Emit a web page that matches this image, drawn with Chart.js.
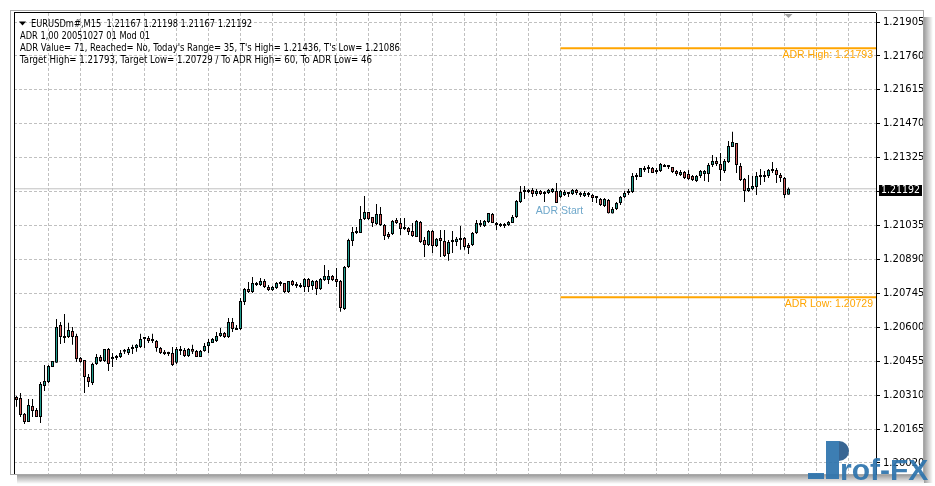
<!DOCTYPE html>
<html>
<head>
<meta charset="utf-8">
<script src="https://cdn.jsdelivr.net/npm/chart.js@4.4.1/dist/chart.umd.min.js"></script>
<style>
  html, body { margin: 0; padding: 0; background: #fff; }
  canvas { display: block; }
</style>
</head>
<body>
<canvas id="chart" width="935" height="486"></canvas>
<script>
// EURUSDm# M15 bars, oldest first.
const opens = [
  1.20302, 1.20298, 1.20230, 1.20195, 1.20264, 1.20247, 1.20217, 1.20349, 1.20366, 1.20430,
  1.20448, 1.20610, 1.20563, 1.20559, 1.20584, 1.20563, 1.20469, 1.20460, 1.20388, 1.20362,
  1.20443, 1.20473, 1.20456, 1.20507, 1.20465, 1.20469, 1.20473, 1.20495, 1.20490, 1.20507,
  1.20512, 1.20516, 1.20550, 1.20554, 1.20542, 1.20542, 1.20512, 1.20495, 1.20490, 1.20490,
  1.20448, 1.20499, 1.20503, 1.20477, 1.20507, 1.20499, 1.20473, 1.20499, 1.20520, 1.20533,
  1.20542, 1.20563, 1.20576, 1.20559, 1.20623, 1.20589, 1.20593, 1.20708, 1.20764, 1.20751,
  1.20789, 1.20781, 1.20798, 1.20772, 1.20760, 1.20768, 1.20789, 1.20789, 1.20751, 1.20798,
  1.20781, 1.20777, 1.20772, 1.20807, 1.20777, 1.20798, 1.20764, 1.20802, 1.20802, 1.20819,
  1.20807, 1.20798, 1.20678, 1.20858, 1.20969, 1.21003, 1.21003, 1.21063, 1.21093, 1.21072,
  1.21042, 1.21084, 1.21037, 1.20999, 1.20999, 1.21059, 1.21046, 1.21029, 1.21025, 1.21012,
  1.20986, 1.21050, 1.20973, 1.20952, 1.21012, 1.20948, 1.20982, 1.20969, 1.20913, 1.20965,
  1.20965, 1.20978, 1.20982, 1.20952, 1.20952, 1.21003, 1.21046, 1.21033, 1.21050, 1.21084,
  1.21046, 1.21042, 1.21033, 1.21037, 1.21046, 1.21072, 1.21136, 1.21183, 1.21178, 1.21187,
  1.21170, 1.21183, 1.21174, 1.21174, 1.21178, 1.21183, 1.21157, 1.21166, 1.21174, 1.21170,
  1.21187, 1.21174, 1.21161, 1.21174, 1.21166, 1.21157, 1.21148, 1.21119, 1.21144, 1.21086,
  1.21106, 1.21131, 1.21157, 1.21174, 1.21178, 1.21251, 1.21242, 1.21281, 1.21277, 1.21281,
  1.21272, 1.21268, 1.21294, 1.21290, 1.21285, 1.21268, 1.21251, 1.21264, 1.21255, 1.21247,
  1.21225, 1.21247, 1.21255, 1.21255, 1.21294, 1.21311, 1.21298, 1.21268, 1.21307, 1.21371,
  1.21388, 1.21290, 1.21234, 1.21183, 1.21191, 1.21200, 1.21247, 1.21242, 1.21247, 1.21272,
  1.21272, 1.21251, 1.21238, 1.21167
];
const highs = [
  1.20306, 1.20319, 1.20234, 1.20294, 1.20294, 1.20255, 1.20366, 1.20439, 1.20439, 1.20456,
  1.20636, 1.20623, 1.20657, 1.20619, 1.20601, 1.20572, 1.20473, 1.20460, 1.20400, 1.20448,
  1.20486, 1.20482, 1.20507, 1.20512, 1.20490, 1.20482, 1.20503, 1.20507, 1.20516, 1.20525,
  1.20529, 1.20572, 1.20554, 1.20563, 1.20572, 1.20546, 1.20516, 1.20503, 1.20495, 1.20516,
  1.20516, 1.20520, 1.20512, 1.20512, 1.20525, 1.20503, 1.20503, 1.20533, 1.20550, 1.20554,
  1.20580, 1.20597, 1.20580, 1.20640, 1.20640, 1.20610, 1.20725, 1.20768, 1.20794, 1.20815,
  1.20794, 1.20811, 1.20807, 1.20781, 1.20777, 1.20794, 1.20798, 1.20789, 1.20798, 1.20802,
  1.20794, 1.20789, 1.20811, 1.20811, 1.20802, 1.20802, 1.20811, 1.20866, 1.20845, 1.20824,
  1.20854, 1.20802, 1.20862, 1.20978, 1.21029, 1.21029, 1.21119, 1.21161, 1.21093, 1.21072,
  1.21127, 1.21114, 1.21042, 1.21007, 1.21059, 1.21067, 1.21067, 1.21067, 1.21029, 1.21046,
  1.21059, 1.21054, 1.20986, 1.21016, 1.21016, 1.20982, 1.21016, 1.21016, 1.20973, 1.21012,
  1.20986, 1.21033, 1.20986, 1.20960, 1.21007, 1.21059, 1.21059, 1.21059, 1.21089, 1.21089,
  1.21050, 1.21046, 1.21046, 1.21054, 1.21080, 1.21144, 1.21204, 1.21204, 1.21191, 1.21195,
  1.21191, 1.21187, 1.21183, 1.21191, 1.21195, 1.21217, 1.21187, 1.21187, 1.21178, 1.21191,
  1.21191, 1.21178, 1.21183, 1.21178, 1.21170, 1.21161, 1.21153, 1.21153, 1.21148, 1.21114,
  1.21136, 1.21161, 1.21183, 1.21191, 1.21260, 1.21260, 1.21281, 1.21290, 1.21294, 1.21285,
  1.21281, 1.21302, 1.21298, 1.21294, 1.21285, 1.21272, 1.21272, 1.21268, 1.21272, 1.21251,
  1.21251, 1.21272, 1.21272, 1.21302, 1.21336, 1.21328, 1.21345, 1.21319, 1.21396, 1.21436,
  1.21388, 1.21302, 1.21238, 1.21251, 1.21247, 1.21264, 1.21277, 1.21268, 1.21277, 1.21307,
  1.21281, 1.21260, 1.21242, 1.21198
];
const lows = [
  1.20260, 1.20217, 1.20187, 1.20195, 1.20217, 1.20217, 1.20191, 1.20328, 1.20362, 1.20430,
  1.20448, 1.20529, 1.20533, 1.20554, 1.20525, 1.20452, 1.20448, 1.20319, 1.20345, 1.20353,
  1.20439, 1.20452, 1.20452, 1.20413, 1.20430, 1.20460, 1.20469, 1.20486, 1.20482, 1.20486,
  1.20495, 1.20512, 1.20512, 1.20533, 1.20533, 1.20495, 1.20486, 1.20482, 1.20477, 1.20435,
  1.20443, 1.20482, 1.20473, 1.20473, 1.20486, 1.20473, 1.20473, 1.20495, 1.20490, 1.20533,
  1.20537, 1.20559, 1.20554, 1.20554, 1.20580, 1.20589, 1.20589, 1.20695, 1.20747, 1.20747,
  1.20777, 1.20777, 1.20768, 1.20755, 1.20755, 1.20764, 1.20777, 1.20747, 1.20747, 1.20777,
  1.20768, 1.20768, 1.20751, 1.20751, 1.20760, 1.20738, 1.20760, 1.20798, 1.20785, 1.20798,
  1.20772, 1.20666, 1.20674, 1.20854, 1.20948, 1.20999, 1.21003, 1.21059, 1.21059, 1.21029,
  1.21037, 1.21033, 1.20973, 1.20978, 1.20995, 1.21042, 1.20995, 1.21016, 1.20995, 1.20986,
  1.20986, 1.20960, 1.20901, 1.20948, 1.20918, 1.20943, 1.20901, 1.20901, 1.20884, 1.20918,
  1.20948, 1.20931, 1.20931, 1.20913, 1.20948, 1.20999, 1.21029, 1.21029, 1.21046, 1.21046,
  1.21016, 1.21029, 1.21025, 1.21033, 1.21046, 1.21067, 1.21131, 1.21148, 1.21174, 1.21157,
  1.21161, 1.21166, 1.21136, 1.21170, 1.21174, 1.21131, 1.21153, 1.21161, 1.21157, 1.21166,
  1.21166, 1.21157, 1.21157, 1.21157, 1.21136, 1.21131, 1.21119, 1.21114, 1.21086, 1.21086,
  1.21101, 1.21123, 1.21153, 1.21166, 1.21174, 1.21230, 1.21242, 1.21264, 1.21260, 1.21260,
  1.21255, 1.21264, 1.21285, 1.21277, 1.21260, 1.21247, 1.21247, 1.21234, 1.21230, 1.21225,
  1.21221, 1.21238, 1.21225, 1.21221, 1.21285, 1.21290, 1.21225, 1.21260, 1.21302, 1.21371,
  1.21260, 1.21225, 1.21136, 1.21178, 1.21187, 1.21166, 1.21208, 1.21221, 1.21238, 1.21260,
  1.21217, 1.21221, 1.21153, 1.21167
];
const closes = [
  1.20289, 1.20225, 1.20195, 1.20268, 1.20242, 1.20217, 1.20358, 1.20371, 1.20435, 1.20456,
  1.20601, 1.20559, 1.20554, 1.20589, 1.20559, 1.20465, 1.20452, 1.20388, 1.20366, 1.20443,
  1.20473, 1.20456, 1.20507, 1.20443, 1.20473, 1.20477, 1.20490, 1.20499, 1.20507, 1.20512,
  1.20525, 1.20550, 1.20554, 1.20542, 1.20546, 1.20512, 1.20490, 1.20486, 1.20486, 1.20439,
  1.20507, 1.20507, 1.20477, 1.20507, 1.20495, 1.20473, 1.20499, 1.20520, 1.20537, 1.20550,
  1.20563, 1.20576, 1.20559, 1.20623, 1.20593, 1.20593, 1.20712, 1.20764, 1.20751, 1.20789,
  1.20781, 1.20798, 1.20772, 1.20760, 1.20772, 1.20789, 1.20785, 1.20751, 1.20798, 1.20781,
  1.20777, 1.20772, 1.20807, 1.20772, 1.20798, 1.20764, 1.20807, 1.20819, 1.20819, 1.20802,
  1.20794, 1.20683, 1.20858, 1.20973, 1.21007, 1.21007, 1.21063, 1.21093, 1.21063, 1.21046,
  1.21084, 1.21037, 1.20990, 1.20986, 1.21054, 1.21046, 1.21020, 1.21020, 1.21007, 1.20990,
  1.21054, 1.20965, 1.20952, 1.21012, 1.20948, 1.20978, 1.20969, 1.20905, 1.20965, 1.20969,
  1.20978, 1.20973, 1.20943, 1.20939, 1.21003, 1.21046, 1.21037, 1.21054, 1.21089, 1.21046,
  1.21037, 1.21033, 1.21042, 1.21050, 1.21072, 1.21140, 1.21178, 1.21178, 1.21187, 1.21170,
  1.21183, 1.21170, 1.21170, 1.21187, 1.21191, 1.21131, 1.21183, 1.21178, 1.21170, 1.21187,
  1.21174, 1.21166, 1.21174, 1.21166, 1.21153, 1.21153, 1.21123, 1.21148, 1.21088, 1.21106,
  1.21131, 1.21157, 1.21174, 1.21183, 1.21247, 1.21242, 1.21281, 1.21272, 1.21281, 1.21260,
  1.21264, 1.21298, 1.21285, 1.21285, 1.21264, 1.21255, 1.21264, 1.21238, 1.21234, 1.21230,
  1.21247, 1.21268, 1.21268, 1.21294, 1.21311, 1.21298, 1.21272, 1.21311, 1.21375, 1.21392,
  1.21294, 1.21230, 1.21183, 1.21195, 1.21204, 1.21247, 1.21242, 1.21247, 1.21272, 1.21268,
  1.21251, 1.21238, 1.21166, 1.21192
];

// Price axis levels and the vertical grid (every 8th bar).
const priceTicks = [
  1.21905, 1.21760, 1.21615, 1.21470, 1.21325, 1.21180, 1.21035,
  1.20890, 1.20745, 1.20600, 1.20455, 1.20310, 1.20165, 1.20020
];
const gridBars = [8, 16, 24, 32, 40, 48, 56, 64, 72, 80, 88, 96, 104, 112, 120, 128,
  136, 144, 152, 160, 168, 176, 184, 192, 200, 208];

// ADR indicator levels.
const adrStartBar = 136;
const adrHigh = 1.21793;
const adrLow = 1.20729;
const todaysLow = 1.21086;
const lastPrice = 1.21192;

const headerLines = [
  "EURUSDm#,M15  1.21167 1.21198 1.21167 1.21192",
  "ADR 1,00 20051027 01 Mod 01",
  "ADR Value= 71, Reached= No, Today's Range= 35, T's High= 1.21436, T's Low= 1.21086",
  "Target High= 1.21793, Target Low= 1.20729 / To ADR High= 60, To ADR Low= 46"
];

const UP = "#1f9c8d";
const DOWN = "#d25b5b";
const GRID = "#c0c0c0";
const ORANGE = "#ffa500";

// bar index range so each bar sits 4px apart on a pixel centre
const X_MIN = -0.625, X_MAX = 214.875;
const Y_MIN = 1.1997298, Y_MAX = 1.2194347;

const wickData = opens.map((_, i) => ({ x: i, y: [lows[i], highs[i]] }));
const bodyData = opens.map((o, i) => ({ x: i, y: [o, closes[i]] }));
const bodyColors = opens.map((o, i) => (closes[i] >= o ? UP : DOWN));

// Frame, shadow, header texts, labels and the watermark.
const decor = {
  id: "decor",
  beforeDraw(chart) {
    const ctx = chart.ctx;
    ctx.save();
    ctx.fillStyle = "#fff";
    ctx.fillRect(0, 0, chart.width, chart.height);
    let g = ctx.createLinearGradient(924, 0, 933, 0);
    g.addColorStop(0, "rgba(0,0,0,0.38)");
    g.addColorStop(1, "rgba(0,0,0,0)");
    ctx.fillStyle = g;
    ctx.fillRect(924, 17, 9, 466);
    g = ctx.createLinearGradient(0, 475, 0, 484);
    g.addColorStop(0, "rgba(0,0,0,0.38)");
    g.addColorStop(1, "rgba(0,0,0,0)");
    ctx.fillStyle = g;
    ctx.fillRect(17, 475, 907, 9);
    ctx.strokeStyle = "#a8a8a8";
    ctx.lineWidth = 1;
    ctx.strokeRect(10.5, 10.5, 913, 464);
    ctx.restore();
  },
  afterDraw(chart) {
    const { ctx, chartArea: area, scales: { x, y } } = chart;
    ctx.save();

    // sunken chart border
    ctx.fillStyle = "#000";
    ctx.fillRect(area.left, area.top - 1, 1, area.bottom - area.top + 1);
    ctx.fillRect(area.left, area.top - 1, area.right - area.left, 1);

    // shift marker
    const sx = x.getPixelForValue(opens.length - 1);
    ctx.fillStyle = "#a0a0a0";
    ctx.beginPath();
    ctx.moveTo(sx - 4, area.top + 1);
    ctx.lineTo(sx + 4, area.top + 1);
    ctx.lineTo(sx, area.top + 5);
    ctx.closePath();
    ctx.fill();

    // header
    ctx.fillStyle = "#000";
    ctx.beginPath();
    ctx.moveTo(19, 21.5);
    ctx.lineTo(26, 21.5);
    ctx.lineTo(22.5, 25.5);
    ctx.closePath();
    ctx.fill();
    ctx.font = "10px 'DejaVu Sans'";
    ctx.textAlign = "left";
    ctx.textBaseline = "alphabetic";
    ctx.fillText(headerLines[0], 31, 26.5, 221);
    ctx.fillText(headerLines[1], 20, 38.7, 130);
    ctx.fillText(headerLines[2], 20, 51, 380);
    ctx.fillText(headerLines[3], 20, 63.3, 352);

    // ADR level labels
    ctx.font = "10.5px 'Liberation Sans'";
    ctx.fillStyle = ORANGE;
    ctx.textAlign = "right";
    ctx.fillText("ADR High: " + adrHigh.toFixed(5), area.right - 3, y.getPixelForValue(adrHigh) + 10);
    ctx.fillText("ADR Low: " + adrLow.toFixed(5), area.right - 3, y.getPixelForValue(adrLow) + 10);

    ctx.fillStyle = "#6fa8cb";
    ctx.textAlign = "center";
    ctx.fillText("ADR Start", x.getPixelForValue(adrStartBar) - 1, y.getPixelForValue(todaysLow));

    // last price box on the axis
    const py = Math.round(y.getPixelForValue(lastPrice));
    ctx.fillStyle = "#000";
    ctx.fillRect(area.right + 3, py - 4, 43, 11);
    ctx.fillStyle = "#fff";
    ctx.font = "10px 'DejaVu Sans'";
    ctx.textAlign = "left";
    ctx.textBaseline = "middle";
    ctx.fillText(lastPrice.toFixed(5), area.right + 5, py + 1.5, 39);

    // Prof-FX watermark
    ctx.fillStyle = "rgba(45,115,172,0.92)";
    ctx.fillRect(808, 473, 16, 6);
    ctx.fillRect(826, 441, 13, 38);
    ctx.fillStyle = "rgba(35,85,135,0.9)";
    ctx.beginPath();
    ctx.moveTo(839, 441);
    ctx.arc(839, 451, 10, -Math.PI / 2, Math.PI / 2);
    ctx.closePath();
    ctx.fill();
    ctx.fillStyle = "rgba(45,115,172,0.92)";
    ctx.font = "bold 30px 'Liberation Sans'";
    ctx.textAlign = "left";
    ctx.textBaseline = "alphabetic";
    ctx.fillText("rof-FX", 840, 480);

    ctx.restore();
  }
};

new Chart(document.getElementById("chart"), {
  type: "bar",
  data: {
    datasets: [
      {
        type: "line",
        data: [{ x: X_MIN, y: lastPrice }, { x: X_MAX, y: lastPrice }],
        borderColor: GRID,
        borderWidth: 1,
        pointRadius: 0,
        order: 10
      },
      {
        type: "line",
        data: [{ x: adrStartBar, y: adrHigh }, { x: X_MAX, y: adrHigh }],
        borderColor: ORANGE,
        borderWidth: 2,
        pointRadius: 0,
        order: 5
      },
      {
        type: "line",
        data: [{ x: adrStartBar, y: adrLow }, { x: X_MAX, y: adrLow }],
        borderColor: ORANGE,
        borderWidth: 2,
        pointRadius: 0,
        order: 5
      },
      {
        // high-low wicks
        data: wickData,
        backgroundColor: "#000",
        borderWidth: 0,
        grouped: false,
        barPercentage: 1,
        categoryPercentage: 1,
        maxBarThickness: 1,
        inflateAmount: 0,
        order: 2
      },
      {
        // open-close bodies
        data: bodyData,
        backgroundColor: bodyColors,
        borderColor: "#000",
        borderWidth: 1,
        borderSkipped: false,
        grouped: false,
        barPercentage: 1,
        categoryPercentage: 1,
        maxBarThickness: 3,
        minBarLength: 2,
        inflateAmount: 0,
        order: 1
      }
    ]
  },
  options: {
    responsive: false,
    animation: false,
    devicePixelRatio: 1,
    layout: { padding: { left: 14, top: 13, right: 12, bottom: 12 } },
    plugins: { legend: { display: false }, tooltip: { enabled: false } },
    scales: {
      x: {
        type: "linear",
        offset: false, // bar charts pad the axis by default; we want exact 4px slots
        min: X_MIN,
        max: X_MAX,
        afterBuildTicks: (s) => { s.ticks = gridBars.map((v) => ({ value: v })); },
        afterFit: (s) => { s.height = 0; },
        ticks: { display: false },
        grid: { color: GRID, drawTicks: false, offset: false },
        border: { display: false, dash: [3, 2] }
      },
      y: {
        position: "right",
        min: Y_MIN,
        max: Y_MAX,
        afterBuildTicks: (s) => { s.ticks = priceTicks.map((v) => ({ value: v })); },
        afterFit: (s) => { s.width = 47; },
        ticks: {
          color: "#000",
          font: { family: "'DejaVu Sans'", size: 10 },
          padding: 3,
          autoSkip: false,
          // the level next to the last price sits under the price box, MT4 hides it
          callback: (v) => (Math.abs(v - lastPrice) < 0.0002 ? "" : Number(v).toFixed(5))
        },
        grid: { color: GRID, tickLength: 4, tickColor: "#000", tickBorderDash: [] },
        border: { display: true, color: "#000", width: 1, dash: [3, 2] }
      }
    }
  },
  plugins: [decor]
});
</script>
</body>
</html>
